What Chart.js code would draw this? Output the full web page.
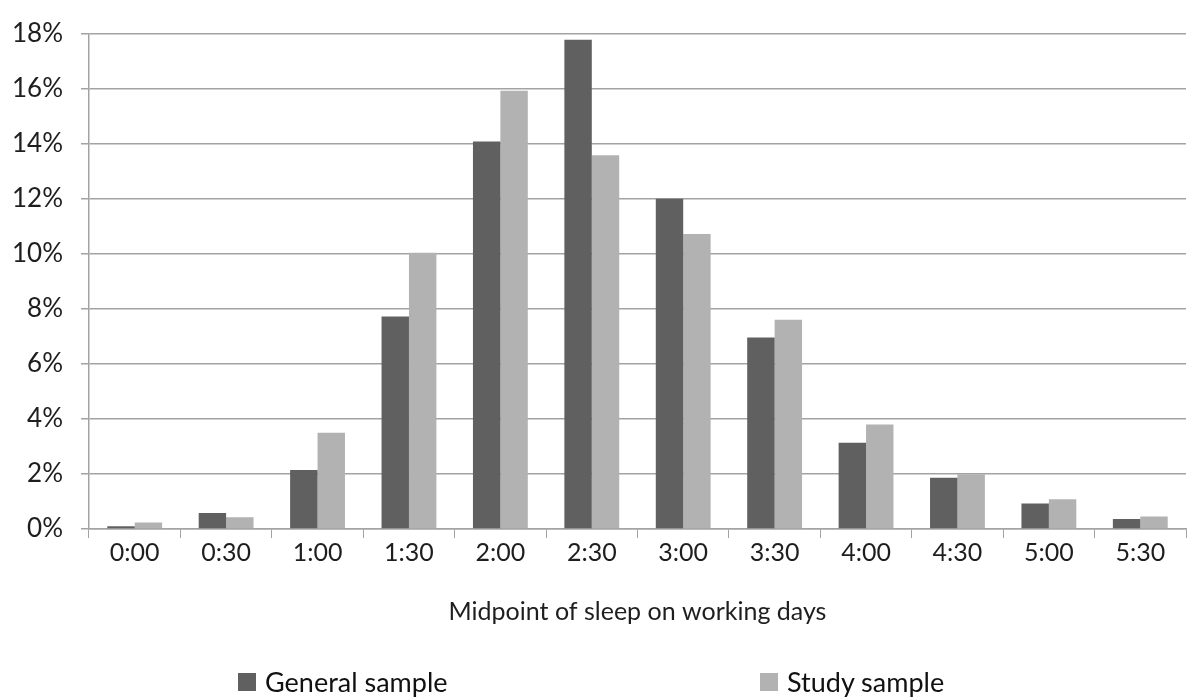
<!DOCTYPE html>
<html>
<head>
<meta charset="utf-8">
<title>Midpoint of sleep on working days</title>
<script src="https://cdn.jsdelivr.net/npm/chart.js@4.4.1/dist/chart.umd.min.js"></script>
<style>
  body { margin: 0; background: #fff; }
  .wrap { position: relative; width: 1192px; height: 700px; }
  .legend { position: absolute; top: 665px; left: 0; width: 1192px; height: 36px; font-family: Lato, "Open Sans", sans-serif; font-size: 27px; color: #111; }
  .legend span.item { position: absolute; top: 0; display: flex; align-items: center; }
  .legend i { display: inline-block; width: 18px; height: 18px; margin-right: 9px; }
</style>
</head>
<body>
<div class="wrap">
  <canvas id="sleepChart" width="1192" height="700"></canvas>
  <div class="legend" id="legend"></div>
</div>
<script>
const categories = ['0:00', '0:30', '1:00', '1:30', '2:00', '2:30', '3:00', '3:30', '4:00', '4:30', '5:00', '5:30'];
const generalSample = [0.1, 0.58, 2.14, 7.72, 14.08, 17.78, 12.0, 6.96, 3.13, 1.86, 0.93, 0.36];
const studySample = [0.24, 0.43, 3.5, 10.04, 15.92, 13.58, 10.72, 7.6, 3.8, 1.99, 1.08, 0.45];
const yTicks = [0, 2, 4, 6, 8, 10, 12, 14, 16, 18];

const darkGrey = '#606060';
const lightGrey = '#b2b2b2';
const lineGrey = '#a3a3a3';
const fontFamily = 'Lato, "Open Sans", sans-serif';

const ctx = document.getElementById('sleepChart').getContext('2d');

const sleepChart = new Chart(ctx, {
    type: 'bar',
    data: {
        labels: categories,
        datasets: [{
            label: 'General sample',
            data: generalSample,
            backgroundColor: darkGrey,
            barPercentage: 1,
            categoryPercentage: 0.6
        }, {
            label: 'Study sample',
            data: studySample,
            backgroundColor: lightGrey,
            barPercentage: 1,
            categoryPercentage: 0.6
        }]
    },
    options: {
        responsive: false,
        animation: false,
        layout: {
            padding: { top: 23, right: 6, bottom: 71, left: 0 }
        },
        plugins: {
            legend: { display: false },
            tooltip: { enabled: false }
        },
        scales: {
            x: {
                afterFit: s => { s.height = 100; },
                grid: {
                    offset: true,
                    drawOnChartArea: false,
                    color: lineGrey,
                    tickLength: 9
                },
                border: { color: lineGrey, width: 1.5 },
                ticks: {
                    color: '#1e1e1e',
                    padding: 0,
                    font: { family: fontFamily, size: 25 }
                },
                title: {
                    display: true,
                    text: 'Midpoint of sleep on working days',
                    color: '#1e1e1e',
                    padding: { top: 0, bottom: 2 },
                    font: { family: fontFamily, size: 25 }
                }
            },
            y: {
                min: 0,
                max: 18,
                afterFit: s => { s.width = 89; },
                afterBuildTicks: s => { s.ticks = yTicks.map(v => ({ value: v })); },
                grid: {
                    color: lineGrey,
                    lineWidth: 1.5,
                    tickLength: 8
                },
                border: { color: lineGrey, width: 1.5 },
                ticks: {
                    color: '#1e1e1e',
                    padding: 18,
                    font: { family: fontFamily, size: 26 },
                    callback: v => v + '%'
                }
            }
        }
    }
});

// legend laid out like the original (wide gap between the two entries)
const legendLeft = [238, 760];
const legendEl = document.getElementById('legend');
sleepChart.data.datasets.forEach((ds, i) => {
    const item = document.createElement('span');
    item.className = 'item';
    item.style.left = legendLeft[i] + 'px';
    item.innerHTML = '<i style="background:' + ds.backgroundColor + '"></i>' + ds.label;
    legendEl.appendChild(item);
});
</script>
</body>
</html>
